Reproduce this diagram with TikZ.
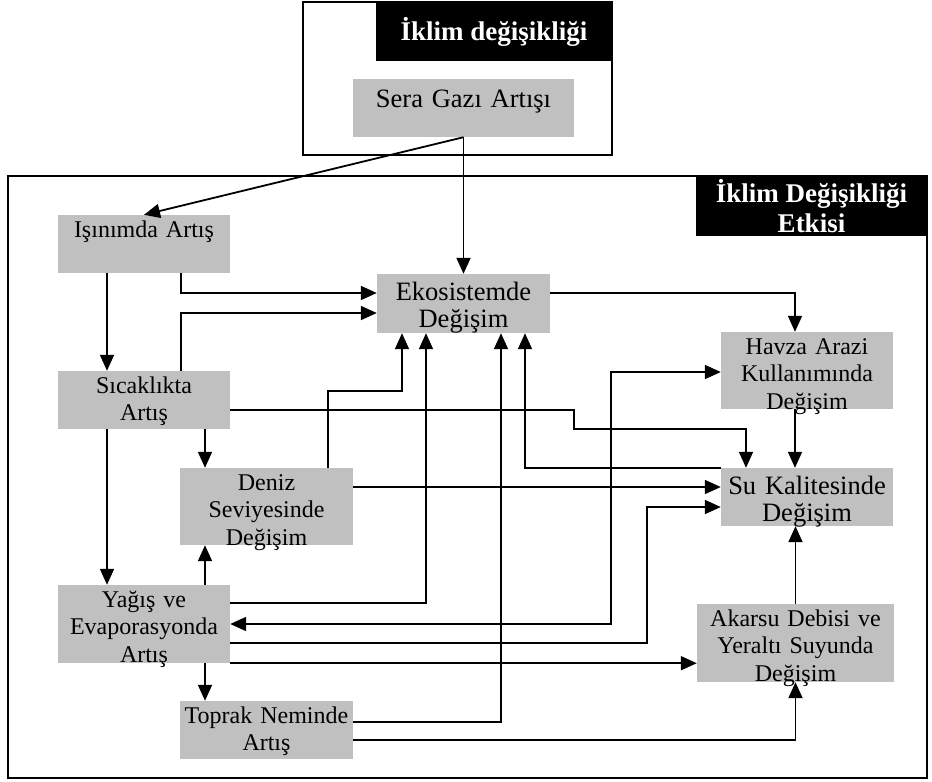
\documentclass[tikz,border=0pt]{standalone}
\usepackage{fontspec}
\setmainfont{Liberation Serif}
\usetikzlibrary{arrows.meta}
\definecolor{kgri}{RGB}{192,192,192}

\begin{document}
\begin{tikzpicture}[
  x=1pt, y=-1pt,
  kutu/.style={fill=kgri, inner sep=0pt, align=center, text width=172pt, text height=22pt, text depth=36pt, font=\fontsize{24}{27.5}\selectfont},
  buyuk/.style={font=\fontsize{26.5}{27}\selectfont, text height=26pt, text depth=32pt},
  uzun/.style={text depth=55pt},
  baslik/.style={fill=black, text=white, inner sep=0pt, align=center, font=\bfseries\fontsize{27}{30}\selectfont},
  cerceve/.style={draw, line width=2pt},
  ok/.style={-{Triangle[length=16pt, width=14pt]}, line width=1.8pt},
  ikiok/.style={{Triangle[length=16pt, width=14pt]}-{Triangle[length=16pt, width=14pt]}, line width=1.8pt}
]
  \useasboundingbox (0,0) rectangle (932,782);

  \draw[cerceve] (303,2) rectangle (612,155);
  \draw[cerceve] (8,176) rectangle (927,778);
  \node[baslik, minimum width=236pt, minimum height=59pt] (iklim) at (494,31.5) {İklim değişikliği};
  \node[baslik, minimum width=231pt, minimum height=60pt] (etki) at (811.5,206) {İklim Değişikliği\\Etkisi};

  \node[kutu, buyuk, text width=221pt, text height=28pt, text depth=30pt] (sera) at (463.5,108) {Sera Gazı Artışı};
  \node[kutu] (isin) at (144,244) {Işınımda Artış};
  \node[kutu, buyuk, text width=173pt, text depth=33pt] (eko) at (463.5,303.5) {Ekosistemde\\Değişim};
  \node[kutu, uzun] (havza) at (807,370.5) {Havza Arazi\\Kullanımında\\Değişim};
  \node[kutu] (sicak) at (144,400) {Sıcaklıkta\\Artış};
  \node[kutu, uzun, text width=173pt] (deniz) at (266.5,506.5) {Deniz\\Seviyesinde\\Değişim};
  \node[kutu, buyuk] (su) at (807,497) {Su Kalitesinde\\Değişim};
  \node[kutu, text depth=56pt] (yagis) at (144,624) {Yağış ve\\Evaporasyonda\\Artış};
  \node[kutu, text width=173pt] (toprak) at (266.5,730) {Toprak Neminde\\Artış};
  \node[kutu, text width=197pt, text depth=56pt] (akarsu) at (795.5,643) {Akarsu Debisi ve\\Yeraltı Suyunda\\Değişim};

  \draw[ok] (sera.south) -- (isin.north);
  \draw[ok] (sera.south) -- (eko.north);
  \draw[ok] ([xshift=-37]isin.south) -- ([xshift=-37]sicak.north);
  \draw[ok] ([xshift=37]isin.south) |- ([yshift=10.5]eko.west);
  \draw[ok] ([xshift=37]sicak.north) |- ([yshift=-9.5]eko.west);
  \draw[ok] ([yshift=10.5]eko.east) -| ([xshift=-12]havza.north);
  \draw[ok] ([xshift=-61.5]deniz.north |- sicak.south) -- ([xshift=-61.5]deniz.north);
  \draw[ok] ([xshift=-37]sicak.south) -- ([xshift=-37]yagis.north);
  \draw[ok] ([yshift=-10]sicak.east) -- ++(344,0) -- ++(0,19) -| ([xshift=-61]su.north);
  \draw[ok] ([xshift=-12]havza.south) -- ([xshift=-12]su.north);
  \draw[ok] ([xshift=61.5]deniz.north) -- ++(0,-77) -| ([xshift=-61.5]eko.south);
  \draw[ok] ([yshift=21]yagis.east) -| ([xshift=-37.5]eko.south);
  \draw[ok] ([yshift=19.5]deniz.east) -- ([yshift=19.5]deniz.east -| su.west);
  \draw[ok] (su.north west) -| ([xshift=61.5]eko.south);
  \draw[ok] ([yshift=8]toprak.east) -| ([xshift=37.5]eko.south);
  \draw[ikiok] (yagis.east) -- ++(381,0) |- ([yshift=-1.5]havza.west);
  \draw[ok] ([yshift=-19]yagis.east) -- ++(417,0) |- ([yshift=-10]su.west);
  \draw[ok] (yagis.south east) -- (yagis.south east -| akarsu.west);
  \draw[ok] ([yshift=-10]toprak.east) -| (akarsu.south);
  \draw[ok] (akarsu.north) -- (akarsu.north |- su.south);
  \draw[ok] ([xshift=-61.5]deniz.south |- yagis.north) -- ([xshift=-61.5]deniz.south);
  \draw[ok] ([xshift=-61.5]toprak.north |- yagis.south) -- ([xshift=-61.5]toprak.north);
\end{tikzpicture}
\end{document}
